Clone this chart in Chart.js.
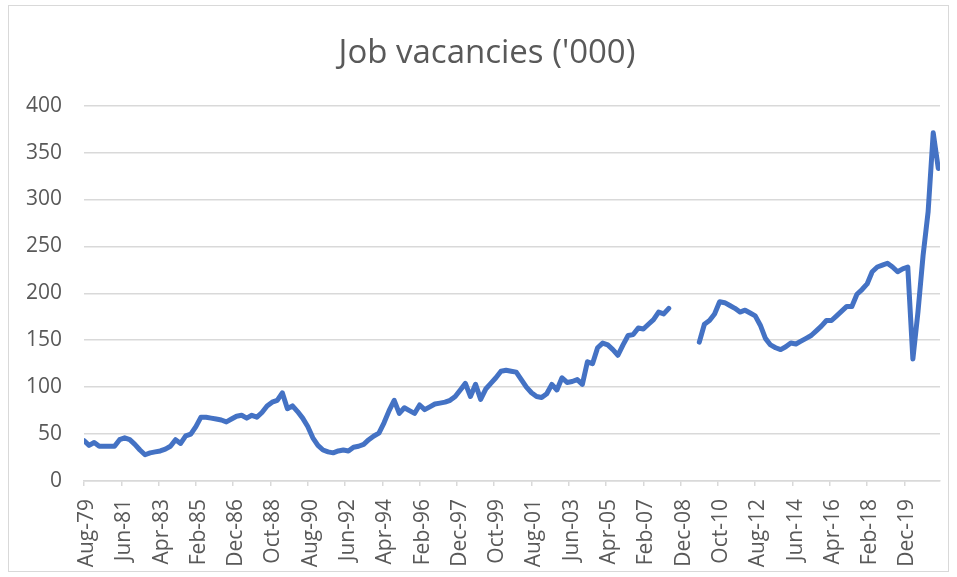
<!DOCTYPE html>
<html>
<head>
<meta charset="utf-8">
<script src="https://cdn.jsdelivr.net/npm/chart.js@4/dist/chart.umd.min.js"></script>
<style>
  html, body { margin: 0; padding: 0; background: #ffffff; }
  #wrap { position: relative; width: 957px; height: 577px; background: #ffffff; }
  #frame { position: absolute; left: 8px; top: 5px; width: 941px; height: 567px; border: 1px solid #d9d9d9; box-sizing: border-box; pointer-events: none; }
  canvas { position: absolute; left: 0; top: 0; }
</style>
</head>
<body>
<div id="wrap">
  <canvas id="c" width="957" height="577"></canvas>
  <div id="frame"></div>
</div>
<script>
// Quarterly job vacancies ('000), first period Aug-79, one value every 3 months
// (null = survey suspended Aug-08 .. Aug-09)
const firstPeriod = 'Aug-79';
const monthsPerPeriod = 3;
const vacancies1979to1989 = [
  43, 38, 41, 37, 37, 37, 37, 44, 46, 44,
  39, 33, 28, 30, 31, 32, 34, 37, 44, 40,
  48, 50, 58, 68, 68, 67, 66, 65, 63, 66,
  69, 70, 67, 70, 68, 73, 80, 84, 86, 94
];
const vacancies1989to1999 = [
  77, 80, 74, 67, 58, 46, 38, 33, 31, 30,
  32, 33, 32, 36, 37, 39, 44, 48, 51, 62,
  75, 86, 72, 78, 75, 72, 81, 76, 79, 82,
  83, 84, 86, 90, 97, 104, 90, 103, 87, 98
];
const vacancies1999to2009 = [
  104, 110, 117, 118, 117, 116, 108, 100, 94, 90,
  89, 93, 103, 97, 110, 105, 106, 108, 103, 127,
  125, 142, 147, 145, 140, 134, 145, 155, 156, 163,
  162, 167, 172, 180, 178, 184, null, null, null, null
];
const vacancies2009to2021 = [
  null, 148, 167, 171, 178, 191, 190, 187, 184, 180,
  182, 179, 176, 166, 152, 145, 142, 140, 143, 147,
  146, 149, 152, 155, 160, 165, 171, 171, 176, 181,
  186, 186, 199, 204, 210, 223, 228, 230, 232, 228,
  223, 226, 228, 130, 180, 240, 287, 371, 333
];
const vacancies = [].concat(vacancies1979to1989, vacancies1989to1999, vacancies1999to2009, vacancies2009to2021);

const xTickLabels = ['Aug-79','Jun-81','Apr-83','Feb-85','Dec-86','Oct-88','Aug-90','Jun-92','Apr-94','Feb-96',
  'Dec-97','Oct-99','Aug-01','Jun-03','Apr-05','Feb-07','Dec-08','Oct-10','Aug-12','Jun-14','Apr-16','Feb-18','Dec-19'];
const xTickStepMonths = 22;
const yTicks = [0, 50, 100, 150, 200, 250, 300, 350, 400];

const points = vacancies.map((v, i) => ({ x: i * monthsPerPeriod, y: v }));
const lastMonth = (vacancies.length - 1) * monthsPerPeriod;

const FONT = "'Open Sans', 'DejaVu Sans', sans-serif";
const GREY = '#595959';
const GRID = '#d9d9d9';

// shift the title block so it is centred like the reference
const titleShift = {
  id: 'titleShift',
  afterLayout(chart) {
    const t = chart.titleBlock;
    if (t) { t.left += 17; t.right += 17; }
  }
};

new Chart(document.getElementById('c'), {
  type: 'line',
  data: {
    datasets: [{
      label: "Job vacancies ('000)",
      data: points,
      borderColor: '#4472C4',
      backgroundColor: '#4472C4',
      borderWidth: 5,
      pointRadius: 0,
      pointHoverRadius: 0,
      tension: 0,
      spanGaps: false,
      borderCapStyle: 'round',
      borderJoinStyle: 'round'
    }]
  },
  plugins: [titleShift],
  options: {
    responsive: false,
    devicePixelRatio: 1,
    animation: false,
    layout: { padding: { left: 0, right: 17, top: 0, bottom: 0 } },
    plugins: {
      legend: { display: false },
      tooltip: { enabled: false },
      title: {
        display: true,
        text: "Job vacancies ('000)",
        color: GREY,
        font: { family: FONT, size: 33, weight: 'normal', lineHeight: 1.2 },
        padding: { top: 34, bottom: 32 }
      }
    },
    scales: {
      x: {
        type: 'linear',
        min: 0,
        max: lastMonth + 1,
        afterFit: (s) => { s.height = 96; },
        grid: { drawOnChartArea: false, drawTicks: true, tickLength: 5, color: GRID, lineWidth: 1.5 },
        border: { display: true, color: GRID, width: 1.5 },
        ticks: {
          stepSize: xTickStepMonths,
          includeBounds: false,
          autoSkip: false,
          minRotation: 90,
          maxRotation: 90,
          padding: 13,
          labelOffset: 3,
          color: GREY,
          font: { family: FONT, size: 21 },
          callback: (value, index) => xTickLabels[index] ?? ''
        }
      },
      y: {
        min: yTicks[0],
        max: yTicks[yTicks.length - 1],
        afterFit: (s) => { s.width = 84; },
        afterBuildTicks: (s) => { s.ticks = yTicks.map(v => ({ value: v })); },
        grid: { drawTicks: false, color: GRID, lineWidth: 1.5 },
        border: { display: false },
        ticks: {
          padding: 22,
          color: GREY,
          font: { family: FONT, size: 21 }
        }
      }
    }
  }
});
</script>
</body>
</html>
